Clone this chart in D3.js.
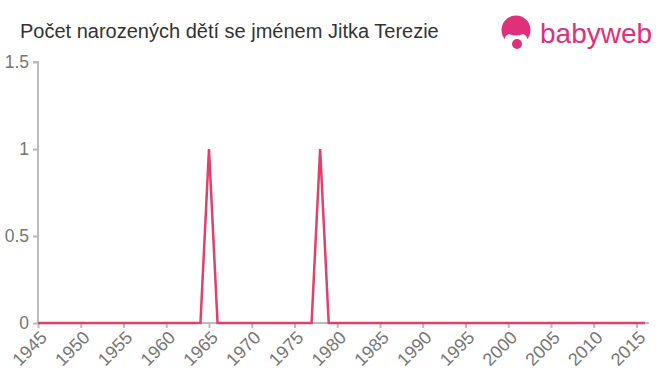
<!DOCTYPE html>
<html><head><meta charset="utf-8">
<script src="https://cdn.jsdelivr.net/npm/d3@7"></script>
<style>body{margin:0;background:#fff;}svg{display:block;font-family:"Liberation Sans",Arial,sans-serif;}</style>
</head><body>
<svg id="c" width="660" height="375"></svg>
<script>
const years = d3.range(1945, 2017);
const peakYears = [1965, 1978];
const peakValues = [1, 1];
const yTicks = [0, 0.5, 1, 1.5];
const xTicks = d3.range(1945, 2016, 5);
const title = "Počet narozených dětí se jménem Jitka Terezie";

const data = years.map(y => ({year: y, value: peakYears.includes(y) ? peakValues[peakYears.indexOf(y)] : 0}));

const svg = d3.select("#c");
const x = d3.scaleLinear().domain([1945, 2016]).range([38, 645]);
const y = d3.scaleLinear().domain([0, 1.5]).range([323, 62]);

svg.append("text").attr("x", 20).attr("y", 38).attr("font-size", 20).attr("fill", "#333").text(title);

// y axis
const ya = svg.append("g").attr("transform", "translate(38,0)")
  .call(d3.axisLeft(y).tickValues(yTicks).tickFormat(d3.format("")).tickSize(5).tickPadding(4));
ya.select(".domain").attr("stroke", "#bbb").attr("stroke-width", 2).attr("d", "M-5,62H0V323");
ya.selectAll(".tick line").attr("stroke", "#bbb").attr("stroke-width", 2);
ya.selectAll(".tick text").attr("fill", "#777").attr("font-size", 17.5).attr("font-family", "Liberation Sans, Arial, sans-serif");

// x axis
const xa = svg.append("g").attr("transform", "translate(0,323)")
  .call(d3.axisBottom(x).tickValues(xTicks).tickFormat(d3.format("d")).tickSize(5).tickPadding(3));
xa.select(".domain").attr("stroke", "#bbb").attr("stroke-width", 2).attr("d", "M38,0H649");
xa.selectAll(".tick line").attr("stroke", "#bbb").attr("stroke-width", 2);
xa.selectAll(".tick text").attr("fill", "#777").attr("font-size", 18)
  .attr("font-family", "Liberation Sans, Arial, sans-serif")
  .attr("text-anchor", "end").attr("dy", "0").attr("dx", "0")
  .attr("transform", "translate(4,10) rotate(-45)");

// line
svg.append("path").datum(data)
  .attr("fill", "none").attr("stroke", "#e0406c").attr("stroke-width", 2.5)
  .attr("d", d3.line().x(d => x(d.year)).y(d => y(d.value)));

// logo
const logo = svg.append("g");
logo.append("circle").attr("cx", 516).attr("cy", 30).attr("r", 14.5).attr("fill", "#e0307a");
logo.append("path").attr("d", "M505,45 Q503,36 509,34 Q516,37 523,34 Q529,36 527,45 Z").attr("fill", "#fff");
logo.append("circle").attr("cx", 517).attr("cy", 44).attr("r", 5).attr("fill", "#e0307a");
logo.append("text").attr("x", 540).attr("y", 43).attr("font-size", 28).attr("fill", "#e0307a")
  .attr("font-family", "Liberation Sans, Arial, sans-serif").text("babyweb");
</script>
</body></html>
